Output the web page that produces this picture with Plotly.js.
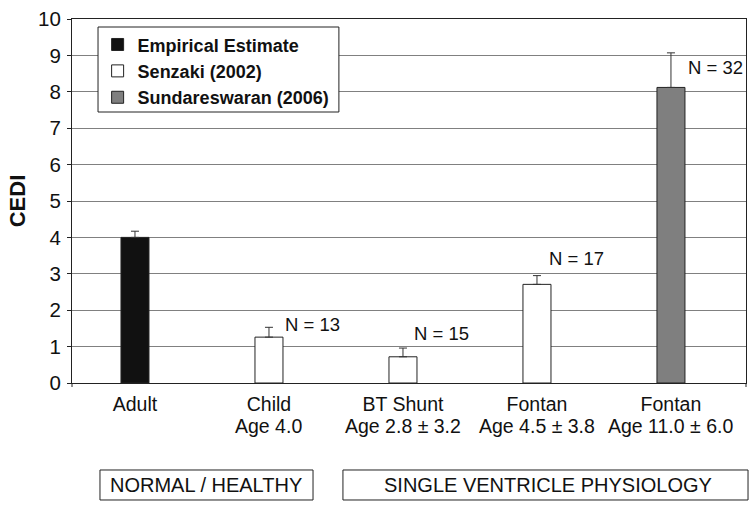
<!DOCTYPE html>
<html>
<head>
<meta charset="utf-8">
<script src="https://cdn.plot.ly/plotly-3.0.1.min.js"></script>
<style>html,body{margin:0;padding:0;background:#fff;}#chart{width:755px;height:509px;}</style>
</head>
<body>
<div id="chart"></div>
<script>
// ---- data ----
var categoryNames = ["Adult", "Child", "BT Shunt", "Fontan", "Fontan"];
var categoryAges = ["", "Age 4.0", "Age 2.8 ± 3.2", "Age 4.5 ± 3.8", "Age 11.0 ± 6.0"];
var cediValues = [4.0, 1.26, 0.72, 2.71, 8.12];
var cediErrors = [0.17, 0.27, 0.24, 0.24, 0.95];
var sourceOfBar = [0, 1, 1, 1, 2];
var sourceNames = ["Empirical Estimate", "Senzaki (2002)", "Sundareswaran (2006)"];
var sampleSizes = [null, 13, 15, 17, 32];
var yTickValues = [0,1,2,3,4,5,6,7,8,9,10];
var groupLabels = ["NORMAL / HEALTHY", "SINGLE VENTRICLE PHYSIOLOGY"];

// ---- styling ----
var FONT = "Liberation Sans, Arial, Helvetica, sans-serif";
var fillColors = ["#111111", "#ffffff", "#7f7f7f"];
var catIdx = categoryNames.map(function (c, i) { return i; });

var traces = sourceNames.map(function (name, s) {
  var xs = [], ys = [], es = [], zs = [];
  catIdx.forEach(function (i) {
    if (sourceOfBar[i] === s) { xs.push(i); ys.push(cediValues[i]); es.push(cediErrors[i]); zs.push(0); }
  });
  return {
    type: "bar", name: name, x: xs, y: ys, width: 0.209,
    marker: {color: fillColors[s], line: {color: "#222", width: 1}},
    error_y: {type: "data", array: es, arrayminus: zs, symmetric: false, color: "#333", thickness: 1, width: 4, visible: true},
    hoverinfo: "skip"
  };
});

var annotations = [];
var nLabelPos = {1: [1.62, 14], 2: [1.37, 9], 3: [3.43, 10], 4: [8.66, 15]};
sampleSizes.forEach(function (n, i) {
  if (n === null) return;
  annotations.push({
    x: i, y: nLabelPos[i][0], xref: "x", yref: "y", xanchor: "left", yanchor: "middle",
    xshift: nLabelPos[i][1], text: "N = " + n, showarrow: false,
    font: {family: FONT, size: 18.5, color: "#111"}
  });
});
categoryAges.forEach(function (a, i) {
  if (!a) return;
  annotations.push({
    x: i, y: -0.118, xref: "x", yref: "paper", xanchor: "center", yanchor: "middle",
    text: a, showarrow: false, font: {family: FONT, size: 19.5, color: "#111"}
  });
});
annotations.push({x: (0.0415 + 0.3576) / 2, y: -0.280, xref: "paper", yref: "paper", text: groupLabels[0],
  showarrow: false, xanchor: "center", yanchor: "middle", font: {family: FONT, size: 20, color: "#111"}});
annotations.push({x: 0.706, y: -0.280, xref: "paper", yref: "paper", text: groupLabels[1],
  showarrow: false, xanchor: "center", yanchor: "middle", font: {family: FONT, size: 20, color: "#111"}});

var shapes = [
  {type: "rect", xref: "paper", yref: "paper", x0: 0.0386, x1: 0.396, y0: 0.7445, y1: 0.978, layer: "above", fillcolor: "#fff", line: {color: "#222", width: 1}},
  {type: "rect", xref: "paper", yref: "paper", x0: 0.0415, x1: 0.3576, y0: -0.3214, y1: -0.239, line: {color: "#222", width: 1}},
  {type: "rect", xref: "paper", yref: "paper", x0: 0.402, x1: 1.003, y0: -0.3214, y1: -0.239, line: {color: "#222", width: 1}},
  {type: "line", xref: "paper", yref: "paper", x0: 0, x1: 0, y0: 0, y1: -0.011, line: {color: "#222", width: 1}},
  {type: "line", xref: "paper", yref: "paper", x0: 1, x1: 1, y0: 0, y1: -0.011, line: {color: "#222", width: 1}}
];

var layout = {
  width: 755, height: 509,
  margin: {l: 72, r: 9, t: 19, b: 126},
  paper_bgcolor: "#fff", plot_bgcolor: "#fff",
  barmode: "overlay",
  showlegend: true,
  legend: {
    x: 0.038, y: 0.980, xanchor: "left", yanchor: "top",
    bgcolor: "rgba(0,0,0,0)", borderwidth: 0,
    font: {family: FONT, size: 18, color: "#111", weight: "bold"},
    traceorder: "normal"
  },
  xaxis: {
    range: [-0.47, 4.56], tickmode: "array", tickvals: catIdx, ticktext: categoryNames,
    ticks: "", showgrid: false, zeroline: false, ticklabelstandoff: 4,
    showline: true, linecolor: "#222", linewidth: 1, mirror: true,
    tickfont: {family: FONT, size: 19.5, color: "#111"}
  },
  yaxis: {
    range: [0, 10], tickmode: "array", tickvals: yTickValues,
    ticks: "outside", ticklen: 4, tickcolor: "#222", ticklabelstandoff: 2,
    showgrid: true, gridcolor: "#808080", gridwidth: 1, zeroline: false,
    showline: true, linecolor: "#222", linewidth: 1, mirror: true,
    tickfont: {family: FONT, size: 20.5, color: "#111"},
    title: {text: "<b>CEDI</b>", font: {family: FONT, size: 22, color: "#111"}, standoff: 6}
  },
  annotations: annotations,
  shapes: shapes
};

Plotly.newPlot("chart", traces, layout, {displayModeBar: false, staticPlot: true});
</script>
</body>
</html>
